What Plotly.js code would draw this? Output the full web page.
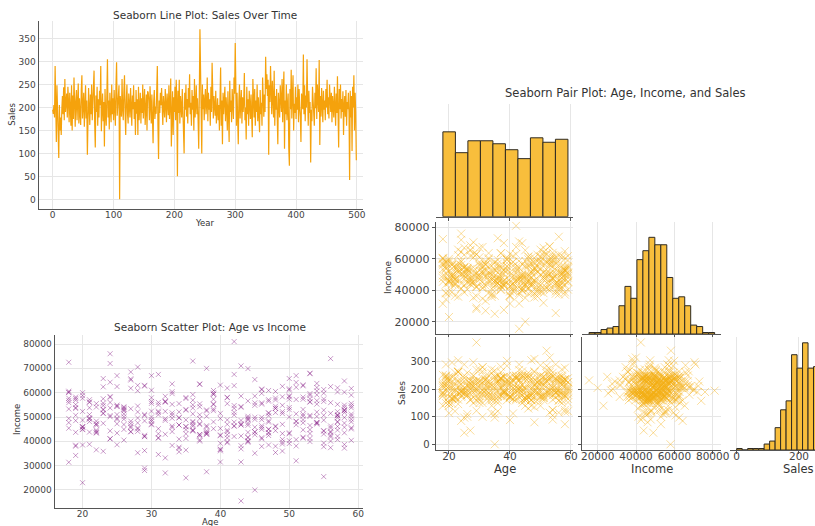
<!DOCTYPE html>
<html>
<head>
<meta charset="utf-8">
<script src="https://cdn.plot.ly/plotly-3.0.1.min.js"></script>
<style>html,body{margin:0;padding:0;background:#fff;}#chart{width:815px;height:526px;}</style>
</head>
<body>
<div id="chart"></div>
<script>
// ---- Data (read/estimated from the reference picture) ----
const sales = [
195,186,205,178,290,232,125,248,210,168,90,205,150,178,140,196,225,185,244,172,262,190,205,230,178,
245,212,168,232,186,160,248,150,226,175,265,190,158,214,238,172,198,252,165,220,185,162,240,270,176,
205,232,158,190,248,176,215,97,180,242,196,162,228,185,250,172,210,235,280,168,113,226,190,245,160,
218,178,236,205,290,148,192,230,170,212,115,240,186,160,225,305,178,215,152,232,196,168,250,185,220,
172,238,195,160,246,298,182,215,230,248,0,225,205,180,262,196,172,235,270,190,140,215,250,185,165,
230,205,178,242,188,160,226,196,248,175,212,140,238,186,218,140,245,172,200,232,165,220,188,250,176,
210,240,162,198,228,150,235,232,215,172,246,196,165,228,180,122,212,238,175,202,186,240,290,160,88,
215,188,232,205,242,196,162,225,205,178,240,190,168,230,212,183,248,175,205,263,115,200,235,140,222,
190,245,172,260,215,50,236,188,260,165,225,198,178,240,206,160,100,232,195,250,180,218,165,242,200,
272,185,210,160,238,195,225,150,262,178,205,248,185,220,170,110,232,370,285,180,100,250,196,228,172,
215,240,185,205,265,170,232,195,218,160,245,190,297,200,176,225,208,182,236,165,190,220,172,205,150,
198,287,160,215,120,232,185,210,245,170,222,196,150,235,178,125,258,190,215,168,240,200,175,265,230,
340,200,160,232,188,120,215,250,176,205,238,165,222,190,212,275,172,200,130,245,185,218,160,236,198,
175,228,190,135,262,205,178,240,160,215,190,250,170,222,196,146,238,185,210,160,265,200,180,228,190,
310,240,272,225,260,97,248,212,290,230,185,258,205,178,280,160,225,195,240,150,120,232,200,178,248,
212,190,262,168,235,278,110,215,185,250,172,206,230,112,73,240,196,282,176,225,270,150,208,188,245,
175,222,195,250,168,240,200,180,125,230,212,196,315,185,248,170,226,200,305,220,160,236,188,212,80,
195,170,245,210,186,160,232,198,285,175,250,212,190,303,118,225,180,242,205,168,236,195,215,172,240,
200,260,185,222,176,250,210,190,232,168,225,198,178,245,205,160,230,188,268,215,113,240,196,250,176,
218,190,235,140,205,225,180,238,160,212,196,232,188,42,236,178,225,105,245,200,270,150,232,190,85
];

const age = [
42,25,37,51,19,33,58,46,28,22,54,40,31,47,18,36,59,27,44,50,23,38,55,30,41,
21,49,34,57,26,45,39,20,52,32,48,24,56,35,43,29,53,18,41,37,58,23,46,30,50,
27,55,33,44,19,51,38,25,59,42,22,47,36,53,28,40,20,57,31,45,34,49,24,54,39,
48,26,58,35,43,21,52,30,46,18,56,37,41,29,50,23,44,33,59,27,53,40,19,47,32,
36,55,24,42,51,28,39,57,20,45,35,31,54,26,48,38,22,58,43,29,50,34,46,18,41,
52,25,44,37,59,30,49,21,56,40,33,47,19,53,27,45,38,24,55,32,42,57,28,50,36,
23,46,54,31,39,20,58,43,26,51,35,48,22,41,56,29,37,53,18,44,33,59,25,47,40,
30,52,19,45,36,57,27,49,42,24,55,38,21,50,34,46,28,58,41,23,53,32,47,20,39,
56,35,43,26,51,27,48,33,22,59,40,29,54,37,18,45,31,52,25,42,57,36,21,49,44,
34,55,28,47,20,41,58,30,53,38,24,50,43,19,46,35,56,29,39,52,26,44,32,57,22,
48,37,18,54,31,45,23,59,40,27,51,36,21,47,33,55,42,25,58,30,49,38,20,53,44,
26,50,35,57,22,43,32,52,19,46,39,56,28,41,24,54,34,48,18,45,31,59,37,23,51,
52,29,44,20,55,36,47,25,58,33,42,21,50,38,27,53,40,19,46,32,57,24,49,35,43,
30,56,22,48,37,59,26,45,34,51,18,41,28,54,39,23,47,31,58,36,44,20,53,29,50,
48,25,57,33,46,35,42,19,55,28,38,52,21,49,31,56,40,24,45,36,59,27,43,18,54,
32,47,23,51,39,58,26,44,20,53,35,49,29,41,58,22,55,37,46,30,52,19,43,34,57,
40,27,50,36,21,56,45,31,54,24,48,38,53,18,43,33,59,28,47,22,51,37,42,26,48,
35,55,20,46,30,57,41,25,52,34,44,19,49,39,58,23,37,53,29,45,32,56,21,50,42,
27,54,38,18,47,33,59,24,43,51,36,22,56,40,30,48,25,55,35,44,20,52,31,57,39,
46,23,53,34,41,28,58,37,19,50,44,26,55,25,32,47,21,54,38,43,29,57,36,49,24
];

const income = [
81000,49500,42800,57200,38400,46300,52600,44900,60800,54100,47700,36800,51900,43600,56800,48200,45600,53400,40200,58700,65800,50300,44200,55600,39800,
49200,54800,37600,46100,51300,42700,59400,45800,63200,48600,35400,76000,74000,52800,47300,41900,56300,60100,44600,50900,38700,53200,61500,46800,43100,
65200,44400,51700,39600,56900,48100,43300,62500,50400,54700,36500,47900,73000,41200,52100,45300,58800,49700,34600,55800,46700,40800,72000,50200,57300,
53600,46900,60200,48800,71000,43800,51200,56400,37900,72500,44100,49300,58100,36200,53900,47400,41600,55200,45100,61800,50700,42300,57600,48400,52300,
44700,59800,50600,46400,38100,70500,53300,42100,57700,49900,58000,45200,63800,40500,54400,70000,47100,51800,36900,62700,43500,55500,48900,60600,41400,
47600,54300,43700,63400,49100,52400,38900,57100,45500,51500,60400,42400,34200,56100,48300,65400,44300,53700,39300,58500,46200,50500,35300,61100,47800,
52900,45700,59100,41500,55400,48700,37200,15500,50100,62200,44800,53500,46600,57900,40100,51100,63600,43200,49400,56600,38300,54600,47200,60900,42600,
67000,48900,55100,20000,46900,52200,43900,58300,50800,41100,57400,45900,53800,39100,49600,61200,44100,54900,47000,35900,59600,42900,51600,23000,48000,
55900,25000,46800,52500,40700,44000,57800,49500,43400,61700,36600,50600,47500,54200,45400,58600,41300,53100,38600,62900,48100,44500,56200,51400,69900,
49800,25500,54500,45000,60000,39400,52700,47100,57500,43000,56000,50000,38200,48500,55300,46000,41800,42500,59300,44700,53000,48700,27000,51000,43600,
57000,42200,47700,52000,67500,49000,55700,40400,63100,45600,51300,46200,38800,56500,44000,50700,67500,43400,54000,48200,36000,27500,52300,68000,46600,
44900,65800,53100,47900,55500,31500,49300,41700,58200,46400,52600,37400,63000,48800,44300,56700,40900,51800,31400,54800,43100,59000,47300,62400,67000,
58200,28000,47400,44800,37800,55000,51700,67000,45800,63600,42000,49700,57300,43700,68500,46500,31500,53500,41000,33200,55200,50100,39700,46100,54000,
50000,43600,47200,60500,40100,55600,53900,35100,46700,32000,57700,42700,49600,62100,45200,51600,38500,56000,64800,44200,50300,38500,67800,29000,53000,
38000,54400,44600,50800,59700,43100,47900,38000,56400,45100,52900,41300,49200,62600,55000,46300,36100,58100,43800,51300,48000,65700,42200,53300,47100,
56300,43400,51400,46800,60900,49800,54200,40000,45900,58900,36400,52200,48400,55500,53000,44100,61300,46900,41500,57900,50400,43700,48600,37100,62000,
49400,46200,40300,53700,56000,62500,43900,50900,47800,58400,44400,52500,39900,55900,46700,59600,51200,45500,57100,48300,64200,42800,53600,49100,46000,
41200,52800,46100,55800,48900,60300,44000,51000,57300,35700,49700,53900,43200,59900,47500,54700,40600,50200,63000,45800,56500,42500,48100,61600,51900,
47300,55300,42900,60100,50500,45700,53800,41000,58600,48300,56900,44600,51500,39200,61000,46300,54900,43000,57600,49200,45000,62800,52400,40700,55100,
49900,57500,44800,52100,61900,47600,43500,55400,50700,58300,41600,53400,48700,49000,56100,44900,51000,60700,46400,54300,42000,50600,59200,47000,64300
];

// histogram bin counts read from the pair-plot diagonal
const ageBinRange = [18, 59];
const ageCounts = [57, 43, 51, 51, 49, 45, 39, 53, 50, 52];
const incomeBinRange = [15500, 81000];
const incomeCounts = [1,1,3,4,5,19,32,24,50,56,65,60,60,38,24,25,19,6,5,1,1];
const salesBinRange = [0, 370];
const salesCounts = [1,0,1,1,1,4,6,15,27,33,64,55,72,55,56,42,30,20,10,3,1];

const titles = {
  line: 'Seaborn Line Plot: Sales Over Time',
  scatter: 'Seaborn Scatter Plot: Age vs Income',
  pair: 'Seaborn Pair Plot: Age, Income, and Sales'
};

// ---- Helpers ----
const W = 815, H = 526;
const px = v => v / W;
const py = v => 1 - v / H;
const FONT = 'DejaVu Sans, sans-serif';
const yearIdx = sales.map((_, i) => i);

function binCenters(range, counts) {
  const w = (range[1] - range[0]) / counts.length;
  return { x: counts.map((_, i) => range[0] + w * (i + 0.5)), w: w };
}

const LINE_ORANGE = '#F5A20C';
const BAR_FILL = '#F8BE3C';
const BAR_EDGE = '#2e2a22';
const PAIR_MARK = 'rgba(244,175,20,0.42)';
const PURPLE = 'rgba(128,20,128,0.42)';

function histTrace(range, counts, xa, ya) {
  const b = binCenters(range, counts);
  return {
    type: 'bar', x: b.x, y: counts, width: b.w, xaxis: xa, yaxis: ya,
    marker: { color: BAR_FILL, line: { color: BAR_EDGE, width: 1 } },
    hoverinfo: 'skip'
  };
}
function pairScatter(x, y, xa, ya) {
  return {
    type: 'scatter', mode: 'markers', x: x, y: y, xaxis: xa, yaxis: ya,
    marker: { symbol: 'x-thin-open', size: 8, color: PAIR_MARK, line: { color: PAIR_MARK, width: 1 } },
    hoverinfo: 'skip'
  };
}

const traces = [
  { type: 'scatter', mode: 'lines', x: yearIdx, y: sales, xaxis: 'x', yaxis: 'y',
    line: { color: LINE_ORANGE, width: 1.2 }, hoverinfo: 'skip' },
  { type: 'scatter', mode: 'markers', x: age, y: income, xaxis: 'x2', yaxis: 'y2',
    marker: { symbol: 'x-thin-open', size: 5, color: PURPLE, line: { color: PURPLE, width: 1 } }, hoverinfo: 'skip' },
  histTrace(ageBinRange, ageCounts, 'x3', 'y3'),
  pairScatter(age, income, 'x4', 'y4'),
  histTrace(incomeBinRange, incomeCounts, 'x5', 'y5'),
  pairScatter(age, sales, 'x6', 'y6'),
  pairScatter(income, sales, 'x7', 'y7'),
  histTrace(salesBinRange, salesCounts, 'x8', 'y8')
];

const SPINE = '#555555';
const GRID = '#e6e6e6';
function ax(o) {
  return Object.assign({
    showline: true, linecolor: SPINE, linewidth: 1.4,
    showgrid: true, gridcolor: GRID, gridwidth: 1,
    zeroline: false, ticks: '', fixedrange: true,
    tickformat: 'd', separatethousands: false, exponentformat: 'none',
    tickfont: { family: FONT, size: 9, color: '#444' }
  }, o);
}
function hiddenY(o) {
  return Object.assign({ visible: false, fixedrange: true, showgrid: false, zeroline: false }, o);
}

const col1 = [px(436), px(573)], col2 = [px(582), px(721)], col3 = [px(730), 1];
const row1 = [py(216.7), py(104)], row2 = [py(334), py(221.7)], row3 = [py(450), py(336.7)];
const ageRange = [15.74, 60.66], incomeRange = [11810, 84330], salesRangeX = [-21.5, 251.4];
const pairTickFont = { family: FONT, size: 10.5, color: '#444' };
const pairTicks = { ticks: 'outside', ticklen: 3, tickcolor: SPINE, tickwidth: 1 };
const pairX = Object.assign({ ticklabelstandoff: -7 }, pairTicks);

const layout = {
  width: W, height: H,
  margin: { l: 0, r: 0, t: 0, b: 0, pad: 0 },
  paper_bgcolor: '#fff', plot_bgcolor: 'rgba(0,0,0,0)',
  showlegend: false,
  font: { family: FONT, color: '#333' },
  // line plot
  xaxis: ax({ domain: [px(39), px(363)], anchor: 'y', range: [-22.5, 510], tick0: 0, dtick: 100, ticklabelstandoff: -3 }),
  yaxis: ax({ domain: [py(209), py(21)], anchor: 'x', range: [-21, 388], tick0: 0, dtick: 50 }),
  // scatter plot
  xaxis2: ax({ domain: [px(55), px(363)], anchor: 'y2', range: [16.0, 60.7], tick0: 0, dtick: 10, ticklabelstandoff: -3 }),
  yaxis2: ax({ domain: [py(508), py(335)], anchor: 'x2', range: [12600, 83700], tick0: 0, dtick: 10000 }),
  // pair plot
  xaxis3: ax(Object.assign({ domain: col1, anchor: 'y3', range: ageRange, tick0: 0, dtick: 20, showticklabels: false }, pairTicks)),
  yaxis3: hiddenY({ domain: row1, anchor: 'x3', range: [0, 75.7] }),
  xaxis4: ax(Object.assign({ domain: col1, anchor: 'y4', range: ageRange, tick0: 0, dtick: 20, showticklabels: false }, pairTicks)),
  yaxis4: ax(Object.assign({ domain: row2, anchor: 'x4', range: [12180, 83560], tick0: 0, dtick: 20000, tickfont: { family: FONT, size: 11, color: '#444' } }, pairTicks)),
  xaxis5: ax(Object.assign({ domain: col2, anchor: 'y5', range: incomeRange, tick0: 0, dtick: 20000, showticklabels: false }, pairTicks)),
  yaxis5: hiddenY({ domain: row2, anchor: 'x5', range: [0, 75.5] }),
  xaxis6: ax(Object.assign({ domain: col1, anchor: 'y6', range: ageRange, tick0: 0, dtick: 20, tickfont: pairTickFont }, pairX)),
  yaxis6: ax(Object.assign({ domain: row3, anchor: 'x6', range: [-20.7, 390.8], tick0: 0, dtick: 100, tickfont: { family: FONT, size: 10, color: '#444' } }, pairTicks)),
  xaxis7: ax(Object.assign({ domain: col2, anchor: 'y7', range: incomeRange, tick0: 0, dtick: 20000, tickfont: pairTickFont }, pairX)),
  yaxis7: ax(Object.assign({ domain: row3, anchor: 'x7', range: [-20.7, 390.8], tick0: 0, dtick: 100, showticklabels: false }, pairTicks)),
  xaxis8: ax(Object.assign({ domain: col3, anchor: 'y8', range: salesRangeX, tick0: 0, dtick: 200, tickfont: pairTickFont }, pairX)),
  yaxis8: hiddenY({ domain: row3, anchor: 'x8', range: [0, 76.1] }),
  annotations: [
    { text: titles.line, x: px(205), y: py(14.7), size: 10.5 },
    { text: 'Year', x: px(205), y: py(222.5), size: 8.5 },
    { text: 'Sales', x: px(11.7), y: py(114), size: 8.5, angle: -90 },
    { text: titles.scatter, x: px(210), y: py(327.3), size: 10.5 },
    { text: 'Age', x: px(210), y: py(522.3), size: 8.5 },
    { text: 'Income', x: px(17), y: py(420), size: 8.5, angle: -90 },
    { text: titles.pair, x: px(625), y: py(93), size: 11.5 },
    { text: 'Income', x: px(388), y: py(277), size: 9, angle: -90 },
    { text: 'Sales', x: px(402), y: py(393), size: 9, angle: -90 },
    { text: 'Age', x: px(505), y: py(469), size: 11.5 },
    { text: 'Income', x: px(651.7), y: py(469), size: 11.5 },
    { text: 'Sales', x: px(798), y: py(469), size: 11.5 }
  ].map(a => ({
    text: a.text, x: a.x, y: a.y, xref: 'paper', yref: 'paper',
    xanchor: 'center', yanchor: 'middle', showarrow: false,
    textangle: a.angle || 0,
    font: { family: FONT, size: a.size, color: '#333' }
  }))
};

Plotly.newPlot('chart', traces, layout, { displayModeBar: false, staticPlot: true });
</script>
</body>
</html>
